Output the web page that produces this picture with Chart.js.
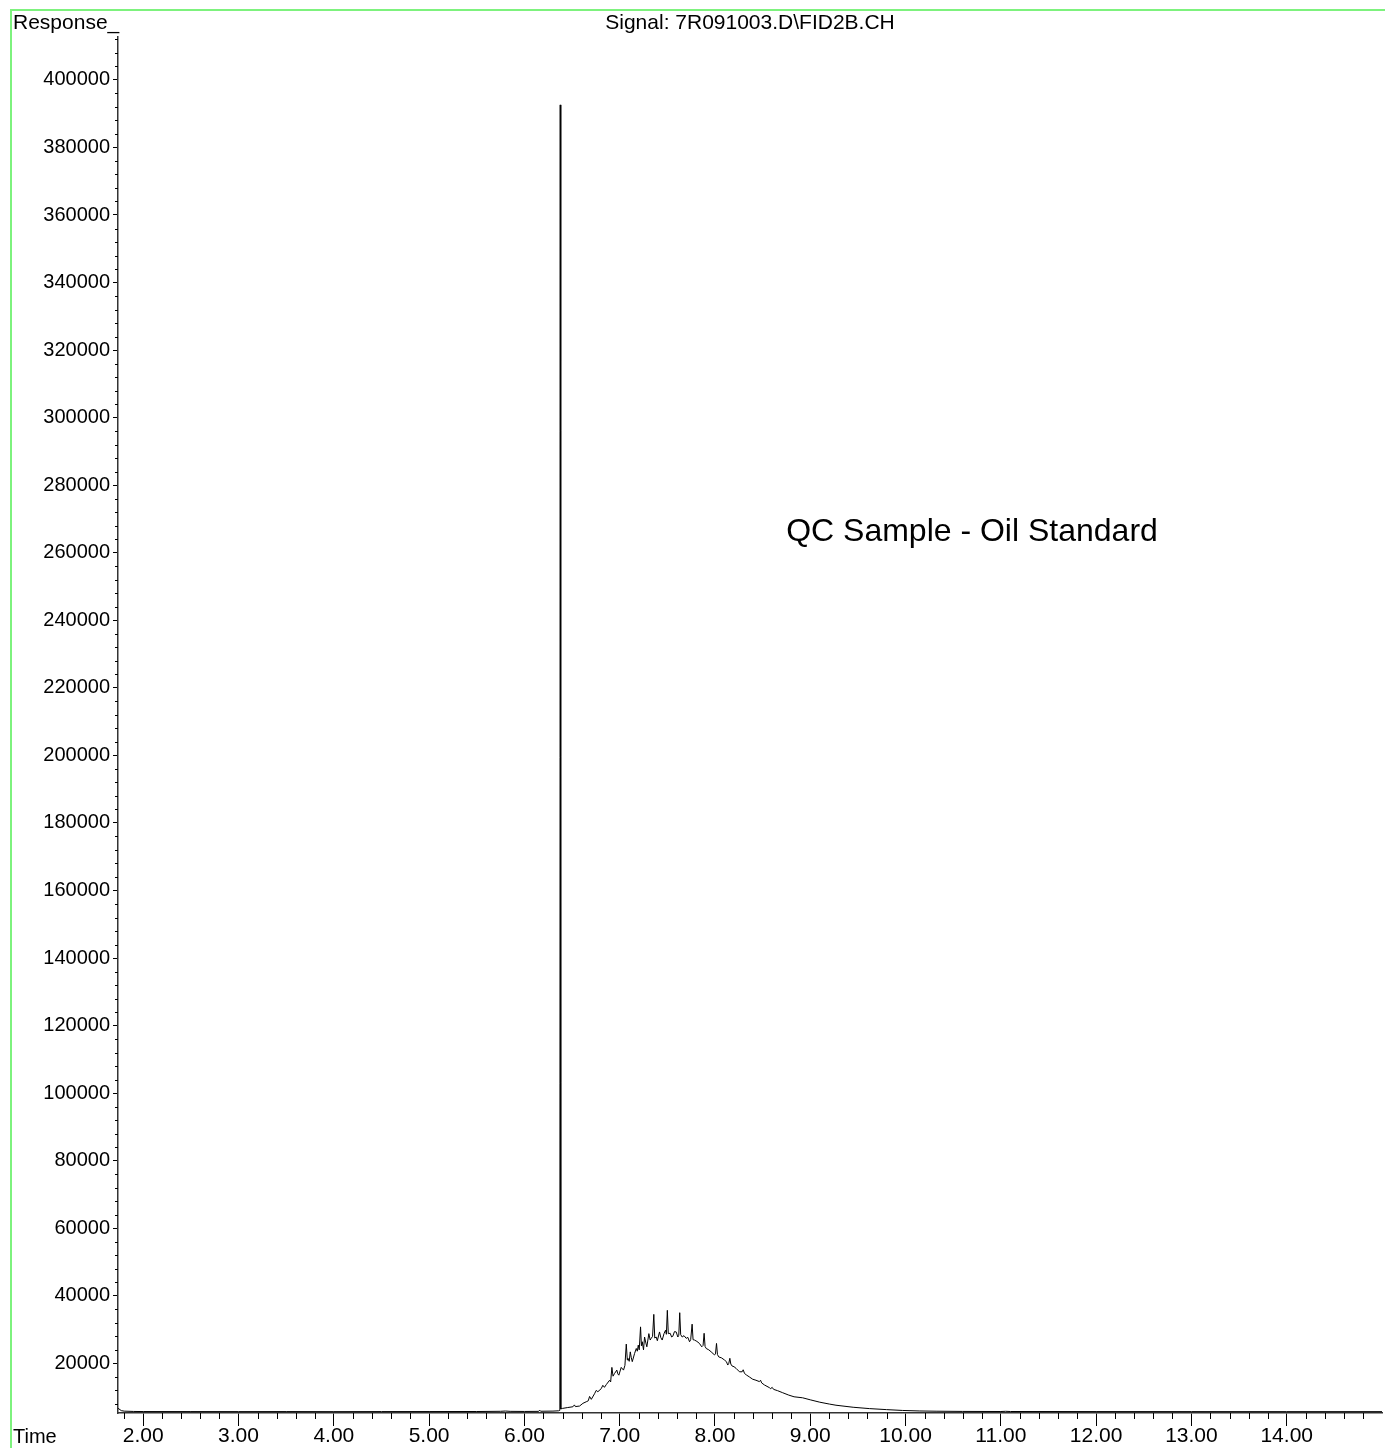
<!DOCTYPE html>
<html>
<head>
<meta charset="utf-8">
<title>FID2B chromatogram</title>
<script src="https://cdn.jsdelivr.net/npm/chart.js@4.4.1/dist/chart.umd.min.js"></script>
<style>
  html, body { margin: 0; padding: 0; background: #fff; }
  #wrap { width: 1385px; height: 1448px; position: relative; }
</style>
</head>
<body>
<div id="wrap"><canvas id="fid-chart" width="1385" height="1448"></canvas></div>
<script>
// retention time (min) and detector response
const timeMin = [
  1.735, 1.77, 1.80, 1.90, 2.00, 2.50, 3.00, 3.50, 4.00, 4.50, 5.00, 5.50, 5.75, 5.80, 5.85,
  6.00, 6.15, 6.16, 6.17, 6.30, 6.36, 6.372, 6.376, 6.382, 6.398, 6.45, 6.509, 6.525, 6.535,
  6.579, 6.614, 6.649, 6.67, 6.684, 6.702, 6.736, 6.754, 6.771, 6.806, 6.823, 6.84, 6.859,
  6.894, 6.905, 6.918, 6.93, 6.946, 6.970, 6.98, 6.991, 7.016, 7.040, 7.055, 7.069, 7.08,
  7.086, 7.100, 7.111, 7.121, 7.132, 7.156, 7.174, 7.185, 7.195, 7.205, 7.219, 7.228, 7.237,
  7.25, 7.261, 7.275, 7.285, 7.306, 7.320, 7.331, 7.345, 7.358, 7.368, 7.383, 7.395, 7.418,
  7.432, 7.446, 7.465, 7.481, 7.490, 7.500, 7.510, 7.530, 7.545, 7.557, 7.575, 7.593, 7.61,
  7.62, 7.630, 7.640, 7.656, 7.675, 7.698, 7.715, 7.733, 7.745, 7.760, 7.770, 7.785, 7.810,
  7.837, 7.861, 7.875, 7.886, 7.896, 7.908, 7.935, 7.960, 7.995, 8.005, 8.016, 8.026, 8.040,
  8.07, 8.099, 8.12, 8.134, 8.145, 8.156, 8.166, 8.180, 8.200, 8.222, 8.257, 8.285, 8.296,
  8.310, 8.333, 8.36, 8.396, 8.43, 8.466, 8.478, 8.49, 8.519, 8.571, 8.585, 8.60, 8.615,
  8.658, 8.711, 8.774, 8.83, 8.92, 9.00, 9.10, 9.20, 9.27, 9.45, 9.62, 9.80, 9.97, 10.15,
  10.32, 10.60, 11.00, 11.05, 11.10, 12.00, 13.00, 14.00, 15.00
];
const responseCounts = [
  6700, 6000, 5850, 5760, 5730, 5720, 5710, 5720, 5700, 5720, 5730, 5740, 5800, 5880, 5790,
  5760, 5790, 6150, 5820, 5860, 5950, 6100, 392600, 6500, 6650, 6900, 7150, 7700, 7200,
  7360, 8160, 8630, 8900, 10200, 9340, 11000, 12000, 11600, 12500, 13500, 12900, 13700,
  15000, 14500, 18800, 16200, 17000, 18000, 16900, 16500, 18800, 18000, 19400, 25700, 21000,
  21500, 20600, 23400, 21800, 20500, 22900, 24400, 23600, 25400, 24000, 30800, 25200, 26400,
  24000, 27800, 26000, 24900, 28800, 26900, 27400, 28000, 34500, 27500, 27800, 26700, 29300,
  27600, 26900, 28800, 29800, 28600, 35700, 28800, 28900, 27800, 28000, 29400, 29300, 27800,
  28300, 35000, 28500, 27800, 28200, 27400, 27700, 26400, 27000, 31600, 27000, 26900, 26500,
  25900, 24900, 25300, 28900, 25000, 24400, 24000, 23400, 22500, 22800, 25900, 22600, 21900,
  21600, 21000, 20500, 19500, 20000, 21500, 19800, 19200, 19000, 18500, 17500, 17500, 18100,
  17000, 16500, 16000, 15300, 15000, 14600, 15000, 14200, 13600, 12800, 12500, 12900, 12300,
  11900, 11300, 10600, 10100, 9800, 9200, 8500, 7950, 7600, 7000, 6600, 6300, 6050, 5900,
  5830, 5770, 5740, 5800, 5740, 5720, 5710, 5700, 5700
];

const xMajorTicks = [2, 3, 4, 5, 6, 7, 8, 9, 10, 11, 12, 13, 14];
const yMajorTicks = [20000, 40000, 60000, 80000, 100000, 120000, 140000, 160000, 180000, 200000,
  220000, 240000, 260000, 280000, 300000, 320000, 340000, 360000, 380000, 400000];
const xMinorStep = 0.2;
const yMinorStep = 4000;

const FONT = '"Liberation Sans", Arial, sans-serif';

// green frame, header texts, annotation and the minor ticks on both axes
const chromFrame = {
  id: 'chromFrame',
  afterDraw(chart) {
    const ctx = chart.ctx;
    const { x, y } = chart.scales;
    const area = chart.chartArea;
    ctx.save();

    ctx.strokeStyle = '#7df27d';
    ctx.lineWidth = 2;
    ctx.beginPath();
    ctx.moveTo(11, chart.height);
    ctx.lineTo(11, 10);
    ctx.lineTo(chart.width, 10);
    ctx.stroke();

    ctx.strokeStyle = '#000';
    ctx.lineWidth = 1;
    ctx.beginPath();
    for (let v = 1.8; v <= x.max + 1e-9; v += xMinorStep) {
      if (Math.abs(v - Math.round(v)) < 1e-6) continue;
      const px = Math.round(x.getPixelForValue(v)) + 0.5;
      ctx.moveTo(px, area.bottom);
      ctx.lineTo(px, area.bottom + 6);
    }
    for (let v = 8000; v <= y.max; v += yMinorStep) {
      if (v % 20000 === 0) continue;
      const py = Math.round(y.getPixelForValue(v)) + 0.5;
      ctx.moveTo(area.left - 3, py);
      ctx.lineTo(area.left, py);
    }
    ctx.stroke();

    ctx.fillStyle = '#000';
    ctx.font = '21px ' + FONT;
    ctx.textBaseline = 'alphabetic';
    ctx.textAlign = 'left';
    ctx.fillText('Response_', 13, 29);
    ctx.font = '20px ' + FONT;
    ctx.fillText('Time', 13, 1443);
    ctx.textAlign = 'center';
    ctx.font = '21px ' + FONT;
    ctx.fillText('Signal: 7R091003.D\\FID2B.CH', 750, 29);

    ctx.font = '32px ' + FONT;
    ctx.textBaseline = 'middle';
    ctx.fillText('QC Sample - Oil Standard', 972, 532);
    ctx.restore();
  }
};

new Chart(document.getElementById('fid-chart'), {
  type: 'line',
  data: {
    datasets: [{
      data: timeMin.map((t, i) => ({ x: t, y: responseCounts[i] })),
      borderColor: '#000',
      borderWidth: 1,
      pointRadius: 0,
      tension: 0,
      fill: false
    }]
  },
  options: {
    responsive: false,
    animation: false,
    events: [],
    layout: { padding: { top: 37, right: 3, left: 0, bottom: 0 } },
    plugins: { legend: { display: false }, tooltip: { enabled: false } },
    scales: {
      x: {
        type: 'linear',
        min: 1.735,
        max: 15.0,
        afterBuildTicks: s => { s.ticks = xMajorTicks.map(v => ({ value: v })); },
        afterFit: s => { s.height = 35; },
        ticks: {
          callback: v => v.toFixed(2),
          color: '#000',
          font: { family: FONT, size: 21, lineHeight: 1 },
          padding: 0,
          maxRotation: 0,
          autoSkip: false
        },
        grid: { drawOnChartArea: false, tickLength: 13, tickColor: '#000', tickWidth: 1 },
        border: { color: '#333', width: 1.5 }
      },
      y: {
        type: 'linear',
        min: 5300,
        max: 412700,
        afterBuildTicks: s => { s.ticks = yMajorTicks.map(v => ({ value: v })); },
        afterFit: s => { s.width = 118; },
        ticks: {
          callback: v => String(v),
          color: '#000',
          font: { family: FONT, size: 20, lineHeight: 1 },
          padding: 3,
          autoSkip: false
        },
        grid: { drawOnChartArea: false, tickLength: 5, tickColor: '#000', tickWidth: 1 },
        border: { color: '#333', width: 1.5 }
      }
    }
  },
  plugins: [chromFrame]
});
</script>
</body>
</html>
